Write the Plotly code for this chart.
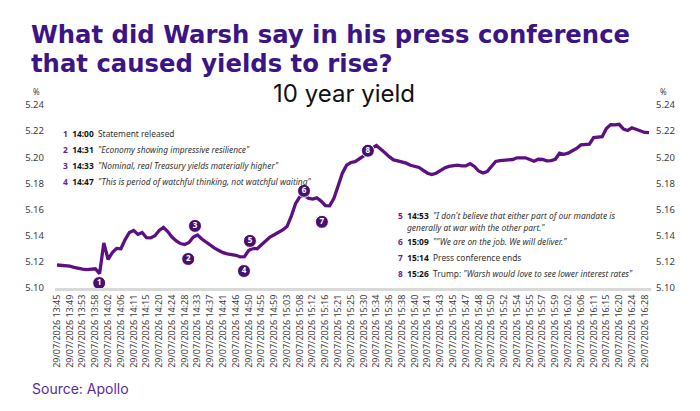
import plotly.graph_objects as go

# x axis labels (one label every 3 points)
tick_times = ["13:45", "13:49", "13:53", "13:58", "14:02", "14:06", "14:11", "14:15",
              "14:20", "14:24", "14:28", "14:33", "14:37", "14:41", "14:46", "14:50",
              "14:55", "14:59", "15:03", "15:08", "15:12", "15:16", "15:21", "15:25",
              "15:30", "15:34", "15:36", "15:38", "15:40", "15:41", "15:43", "15:45",
              "15:47", "15:48", "15:50", "15:52", "15:54", "15:55", "15:57", "15:59",
              "16:02", "16:06", "16:11", "16:15", "16:20", "16:24", "16:28"]
pts_per_tick = 3

# 10 year yield, %
yield_10y = [
    5.1176, 5.1173, 5.1171, 5.1167, 5.1158, 5.1149, 5.1144, 5.1141, 5.1143, 5.1147,
    5.1110, 5.1345, 5.1218, 5.1272, 5.1303, 5.1300, 5.1370, 5.1425, 5.1440, 5.1410,
    5.1425, 5.1385, 5.1383, 5.1400, 5.1440, 5.1464, 5.1432, 5.1390, 5.1360, 5.1340,
    5.1332, 5.1348, 5.1390, 5.1405, 5.1375, 5.1350, 5.1326, 5.1305, 5.1287, 5.1270,
    5.1261, 5.1256, 5.1250, 5.1238, 5.1240, 5.1286, 5.1304, 5.1300, 5.1330, 5.1355,
    5.1390, 5.1407, 5.1424, 5.1445, 5.1470, 5.1547, 5.1645, 5.1697, 5.1708, 5.1687,
    5.1680, 5.1690, 5.1665, 5.1630, 5.1628, 5.1685, 5.1780, 5.1878, 5.1940, 5.1960,
    5.1967, 5.1987, 5.2010, 5.2040, 5.2070, 5.2090, 5.2065, 5.2034, 5.2005, 5.1980,
    5.1973, 5.1967, 5.1955, 5.1939, 5.1930, 5.1922, 5.1900, 5.1878, 5.1868, 5.1878,
    5.1898, 5.1918, 5.1930, 5.1936, 5.1940, 5.1935, 5.1934, 5.1952, 5.1930, 5.1895,
    5.1880, 5.1891, 5.1930, 5.1968, 5.1975, 5.1980, 5.1980, 5.1983, 5.1996, 5.1996,
    5.1996, 5.1983, 5.1970, 5.1985, 5.1983, 5.1973, 5.1975, 5.1985, 5.2031, 5.2023,
    5.2032, 5.2050, 5.2068, 5.2095, 5.2097, 5.2100, 5.2150, 5.2153, 5.2157, 5.2220,
    5.2250, 5.2248, 5.2252, 5.2215, 5.2205, 5.2226, 5.2215, 5.2198, 5.2190, 5.2188,
]

# numbered event markers
event_ids = ["1", "2", "3", "4", "5", "6", "7", "8"]
event_x = [9.9, 30.8, 32.4, 43.9, 45.3, 58.0, 62.2, 73.0]
event_y = [5.1038, 5.1222, 5.1475, 5.1130, 5.1360, 5.1743, 5.1506, 5.2050]
event_time = ["14:00", "14:31", "14:33", "14:47", "14:53", "15:09", "15:14", "15:26"]
event_text = [
    "Statement released",
    "<i>\"Economy showing impressive resilience\"</i>",
    "<i>\"Nominal, real Treasury yields materially higher\"</i>",
    "<i>\"This is period of watchful thinking, not watchful waiting\"</i>",
    "<i>\"I don't believe that either part of our mandate is</i>",
    "<i>\"\"We are on the job. We will deliver.\"</i>",
    "Press conference ends",
    "Trump: <i>\"Warsh would love to see lower interest rates\"</i>",
]
event5_cont = "<i>generally at war with the other part.\"</i>"

y_ticks = [5.10, 5.12, 5.14, 5.16, 5.18, 5.20, 5.22, 5.24]

PURPLE_LINE = "#5e1080"
NUM_COL = "#6a1b9a"

# plot area in pixels
X0, X1 = 55, 651
Y0, Y1 = 288, 105
def px(x):
    return (x - X0) / (X1 - X0)
def py(y):
    return (Y0 - y) / (Y0 - Y1)

xs = list(range(len(yield_10y)))
tickvals = [i * pts_per_tick for i in range(len(tick_times))]
ticktext = ["29/07/2026 " + t for t in tick_times]

fig = go.Figure()
fig.add_trace(go.Scatter(x=xs, y=yield_10y, mode="lines",
                         line=dict(color=PURPLE_LINE, width=3.3), hoverinfo="skip"))
# same series on the right-hand axis (invisible) so that axis is drawn
fig.add_trace(go.Scatter(x=xs, y=yield_10y, mode="lines", yaxis="y2",
                         line=dict(color="rgba(0,0,0,0)", width=0), hoverinfo="skip"))
fig.add_trace(go.Scatter(x=event_x, y=event_y, mode="markers+text", text=event_ids,
                         textposition="middle center",
                         textfont=dict(color="white", size=8, family="Noto Sans", weight="bold"),
                         marker=dict(size=13, color="#4a0e6e", line=dict(color="white", width=1)),
                         hoverinfo="skip"))

ann = []
txt_font = dict(family="Noto Sans", size=8.4, color="#333333")

def note(i, x, y):
    s = ("<span style='color:%s'><b>%s</b></span>  <span style='color:#111'><b>%s</b></span>  %s"
         % (NUM_COL, event_ids[i], event_time[i], event_text[i]))
    ann.append(dict(x=px(x), y=py(y), xref="paper", yref="paper", text=s, showarrow=False,
                    xanchor="left", yanchor="middle", font=txt_font, align="left"))

left_rows = [133, 149, 165, 181]
for k, yy in enumerate(left_rows):
    note(k, 61, yy)
right_rows = [215, 241, 257, 273]
for k, yy in enumerate(right_rows):
    note(k + 4, 396, yy)
ann.append(dict(x=px(405), y=py(227), xref="paper", yref="paper", text=event5_cont,
                showarrow=False, xanchor="left", yanchor="middle", font=txt_font))

# % units above the axes
for xx in (36, 663):
    ann.append(dict(x=px(xx), y=py(92), xref="paper", yref="paper", text="%",
                    showarrow=False, xanchor="center", yanchor="middle",
                    font=dict(family="Noto Sans", size=8, color="#404040")))

title_font = dict(family="DejaVu Sans", size=24.3, color="#3b1585", weight="bold")
ann.append(dict(x=px(29), y=py(34), xref="paper", yref="paper",
                text="What did Warsh say in his press conference", showarrow=False,
                xanchor="left", yanchor="middle", font=title_font))
ann.append(dict(x=px(29), y=py(64), xref="paper", yref="paper",
                text="that caused yields to rise?", showarrow=False,
                xanchor="left", yanchor="middle", font=title_font))
ann.append(dict(x=px(344), y=py(94), xref="paper", yref="paper", text="10 year yield",
                showarrow=False, xanchor="center", yanchor="middle",
                font=dict(family="Inter", size=24, color="#111111")))
ann.append(dict(x=px(30), y=py(388), xref="paper", yref="paper", text="Source: Apollo",
                showarrow=False, xanchor="left", yanchor="middle",
                font=dict(family="Inter", size=14, color="#5b2a9e")))

fig.update_layout(
    width=700, height=411,
    margin=dict(l=X0, r=700 - X1, t=Y1, b=411 - Y0, autoexpand=False),
    paper_bgcolor="white", plot_bgcolor="white",
    showlegend=False,
    font=dict(family="Noto Sans", color="#404040"),
    xaxis=dict(range=[-0.47, 139.47], tickmode="array", tickvals=tickvals, ticktext=ticktext,
               tickangle=-90, tickfont=dict(size=9, color="#404040"),
               showgrid=False, zeroline=False, showline=True, linecolor="#d9d9d9",
               linewidth=3, ticks="", automargin=False),
    yaxis=dict(range=[5.10, 5.24], tickvals=y_ticks, tickformat=".2f",
               tickfont=dict(size=9.5, color="#404040"), showgrid=False, zeroline=False,
               ticks="", ticklabelstandoff=10, automargin=False),
    yaxis2=dict(range=[5.10, 5.24], tickvals=y_ticks, tickformat=".2f", overlaying="y",
                side="right", tickfont=dict(size=9.5, color="#404040"), showgrid=False,
                zeroline=False, ticks="", ticklabelstandoff=4, automargin=False),
    annotations=ann,
)

fig.write_html("out.html", config={"displayModeBar": False},
               post_script="document.body.style.margin='0px';")
